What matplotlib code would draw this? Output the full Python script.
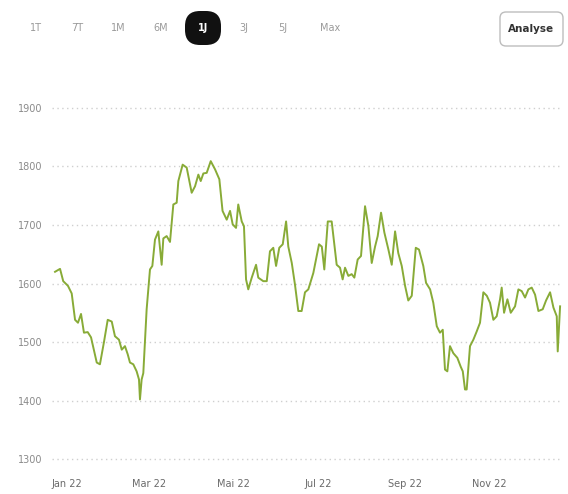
import matplotlib.pyplot as plt
from matplotlib.patches import FancyBboxPatch

# price series: day offset from 1 Jan 2022, value
days = [-8.6, -5.0, -2.7, 0.7, 3.4, 5.8, 7.9, 10.1, 12.2, 14.9, 17.3, 21.4, 23.7,
        26.6, 29.3, 32.2, 34.5, 37.4, 39.4, 41.7, 43.7, 45.3, 47.7, 50.1, 51.8,
        52.5, 53.7, 54.9, 57.3, 59.7, 61.4, 63.3, 65.7, 68.1, 69.3, 71.7, 74.1,
        76.5, 78.9, 80.1, 83.2, 86.1, 89.7, 92.1, 94.5, 96.2, 98.1, 100.5, 103.4,
        106.5, 109.6, 111.9, 114.9, 117.3, 119.2, 121.6, 123.2, 125.7, 127.3,
        128.8, 130.4, 132.9, 136.0, 137.6, 141.2, 143.7, 146.0, 148.4, 150.4,
        152.7, 155.2, 157.6, 159.2, 161.7, 164.0, 166.4, 168.8, 171.2, 173.6,
        177.2, 179.6, 181.3, 183.3, 185.1, 187.6, 190.4, 194.0, 196.4, 198.3,
        200.0, 202.4, 204.8, 206.7, 209.1, 211.5, 214.4, 216.8, 219.2, 221.6,
        223.5, 225.9, 228.3, 231.2, 233.6, 236.0, 238.3, 240.8, 243.2, 245.5,
        248.0, 250.9, 253.2, 256.3, 258.3, 261.2, 263.5, 266.0, 268.3, 270.3,
        271.9, 273.6, 275.5, 277.9, 280.8, 283.2, 284.7, 286.3, 287.5, 289.9,
        292.3, 294.7, 297.1, 299.5, 302.0, 304.3, 306.7, 309.1, 311.5, 312.7,
        314.4, 316.8, 319.2, 322.3, 324.7, 327.1, 329.5, 331.9, 334.3, 336.7,
        339.1, 342.2, 344.6, 347.5, 349.9, 352.3, 353.0, 354.7]
prices = [1620, 1625, 1604, 1596, 1583, 1538, 1533, 1548, 1516, 1517, 1508, 1465, 1462,
          1500, 1538, 1535, 1510, 1504, 1487, 1493, 1479, 1465, 1462, 1450, 1436,
          1402, 1436, 1447, 1556, 1624, 1630, 1675, 1689, 1632, 1677, 1681, 1671,
          1735, 1738, 1775, 1803, 1798, 1755, 1766, 1786, 1775, 1788, 1789, 1809,
          1795, 1778, 1724, 1709, 1724, 1701, 1695, 1735, 1706, 1698,
          1607, 1590, 1610, 1632, 1610, 1604, 1604, 1655, 1661, 1630,
          1661, 1667, 1706, 1663, 1635, 1598, 1553, 1553, 1585, 1590,
          1618, 1647, 1667, 1663, 1624, 1706, 1706, 1632, 1627, 1607,
          1627, 1613, 1616, 1610, 1641, 1647, 1732, 1698, 1635, 1663,
          1681, 1721, 1687, 1658, 1632, 1689, 1652, 1630, 1596, 1571,
          1579, 1661, 1658, 1630, 1601, 1590, 1567, 1527, 1516, 1521,
          1453, 1450, 1493, 1481, 1473, 1458, 1450, 1419, 1419, 1493,
          1504, 1518, 1533, 1585, 1579, 1567, 1538, 1544, 1573, 1593,
          1550, 1573, 1550, 1561, 1590, 1587, 1576, 1590, 1593, 1581,
          1553, 1556, 1571, 1585, 1559, 1544, 1484, 1561]

month_days = [0, 59, 120, 181, 243, 304]
month_labels = ["Jan 22", "Mar 22", "Mai 22", "Jul 22", "Sep 22", "Nov 22"]
y_ticks = [1300, 1400, 1500, 1600, 1700, 1800, 1900]
periods = ["1T", "7T", "1M", "6M", "1J", "3J", "5J", "Max"]
period_x = [36, 77, 118, 161, 203, 244, 283, 330]
active = "1J"

W, H = 568, 494
fig = plt.figure(figsize=(W / 100, H / 100), dpi=100)
ax = fig.add_axes([0.0915, 0.0587, 0.898, 0.7348])

ax.plot(days, prices, color="#88ab37", linewidth=1.4, solid_joinstyle="round")

ax.set_xlim(-10.8, 356.1)
ax.set_ylim(1290, 1910)
ax.set_yticks(y_ticks)
ax.set_yticklabels([str(v) for v in y_ticks], fontsize=7, color="#8a8a8a")
ax.set_xticks(month_days)
ax.set_xticklabels(month_labels, fontsize=7, color="#6a6a6a")
ax.tick_params(length=0)
ax.tick_params(axis="y", pad=7)
ax.tick_params(axis="x", pad=10)
ax.grid(axis="y", color="#cfcfcf", linestyle=(0, (1, 2.5)), linewidth=1)
ax.grid(axis="x", visible=False)
for s in ax.spines.values():
    s.set_visible(False)

# period selector on top (pixel coordinates via inches)
tr = fig.dpi_scale_trans
for lab, px in zip(periods, period_x):
    cy = (H - 28) / 100
    if lab == active:
        pill = FancyBboxPatch((px / 100 - 0.18, cy - 0.17), 0.36, 0.34,
                              boxstyle="round,pad=0,rounding_size=0.15",
                              facecolor="#111111", edgecolor="none", transform=tr)
        fig.patches.append(pill)
        fig.text(px / 100, cy, lab, transform=tr, ha="center", va="center",
                 fontsize=7, color="white", fontweight="bold")
    else:
        fig.text(px / 100, cy, lab, transform=tr, ha="center", va="center",
                 fontsize=7, color="#9a9a9a")

btn = FancyBboxPatch((500 / 100, (H - 46) / 100), 0.63, 0.34,
                     boxstyle="round,pad=0,rounding_size=0.06",
                     facecolor="white", edgecolor="#bdbdbd", linewidth=1, transform=tr)
fig.patches.append(btn)
fig.text(531.5 / 100, (H - 29) / 100, "Analyse", transform=tr, ha="center",
         va="center", fontsize=7.5, color="#333333", fontweight="bold")

fig.savefig("out.png", dpi=100)
